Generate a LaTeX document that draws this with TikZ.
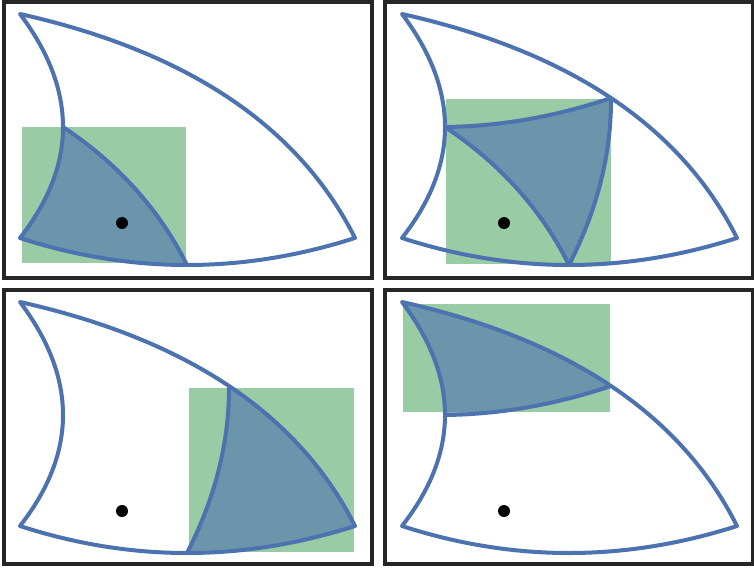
\documentclass[tikz,border=0pt]{standalone}
\usetikzlibrary{calc}

\definecolor{finblue}{HTML}{4C72B0}
\definecolor{boxgreen}{HTML}{55A868}
\definecolor{framegray}{HTML}{262626}

\tikzset{
  panel/.style={draw=framegray, line width=3.5pt},
  greenbox/.style={fill=boxgreen, fill opacity=0.6},
  finline/.style={draw=finblue, line width=4pt, line join=round},
  patch/.style={fill=finblue, fill opacity=0.6},
  centre/.style={circle, fill=black, inner sep=0pt, minimum size=12pt},
}

% quadratic piece from #1 to #3, control point #2
\newcommand{\qto}[3]{.. controls ($(#1)!2/3!(#2)$) and ($(#3)!2/3!(#2)$) .. (#3)}

% corners, edge midpoints and control points of the fin
\newcommand{\finpoints}{%
  \coordinate (A) at (20,14);
  \coordinate (B) at (20,238);
  \coordinate (C) at (355,238);
  \coordinate (mAB) at (63,127);
  \coordinate (mBC) at (187,265);
  \coordinate (mAC) at (229,98);
  \coordinate (qA1) at (63,71);
  \coordinate (qB1) at (63,183);
  \coordinate (qB2) at (103.25,265);
  \coordinate (qC1) at (270.75,265);
  \coordinate (qC2) at (312.75,154);
  \coordinate (qA2) at (145.25,42);
  \coordinate (qi1) at (145.75,182);
  \coordinate (qi2) at (145.75,126);
  \coordinate (qi3) at (229.5,182);
}
\newcommand{\finoutline}{%
  \draw[finline] (A) \qto{A}{qA1}{mAB} \qto{mAB}{qB1}{B} \qto{B}{qB2}{mBC}
    \qto{mBC}{qC1}{C} \qto{C}{qC2}{mAC} \qto{mAC}{qA2}{A} -- cycle;
}

\begin{document}
\begin{tikzpicture}[x=1pt, y=-1pt]
  \useasboundingbox (0,0) rectangle (754,567);

  % frames
  \draw[panel] (4,2) rectangle (372,278);
  \draw[panel] (385,2) rectangle (752.5,278);
  \draw[panel] (4,290) rectangle (372,564);
  \draw[panel] (385,290) rectangle (752.5,564);

  % corner B
  \begin{scope}
    \finpoints
    \fill[greenbox] (22,127) rectangle (186,263);
    \path[patch] (B) \qto{B}{qB2}{mBC} \qto{mBC}{qi1}{mAB} \qto{mAB}{qB1}{B} -- cycle;
    \draw[finline] (mAB) \qto{mAB}{qi1}{mBC};
    \finoutline
    \node[centre] (c1) at (122,223) {};
  \end{scope}

  % middle
  \begin{scope}[shift={(382,0)}]
    \finpoints
    \fill[greenbox] (64,99) rectangle (229,264);
    \path[patch] (mAB) \qto{mAB}{qi2}{mAC} \qto{mAC}{qi3}{mBC} \qto{mBC}{qi1}{mAB} -- cycle;
    \draw[finline] (mAB) \qto{mAB}{qi2}{mAC} \qto{mAC}{qi3}{mBC} \qto{mBC}{qi1}{mAB} -- cycle;
    \finoutline
    \node[centre] (c2) at (122,223) {};
  \end{scope}

  % corner C
  \begin{scope}[shift={(0,288)}]
    \finpoints
    \fill[greenbox] (189,99.5) rectangle (354,263.5);
    \path[patch] (mBC) \qto{mBC}{qC1}{C} \qto{C}{qC2}{mAC} \qto{mAC}{qi3}{mBC} -- cycle;
    \draw[finline] (mAC) \qto{mAC}{qi3}{mBC};
    \finoutline
    \node[centre] (c3) at (122,223) {};
  \end{scope}

  % corner A
  \begin{scope}[shift={(382,288)}]
    \finpoints
    \fill[greenbox] (21,15.5) rectangle (228,124);
    \path[patch] (A) \qto{A}{qA1}{mAB} \qto{mAB}{qi2}{mAC} \qto{mAC}{qA2}{A} -- cycle;
    \draw[finline] (mAB) \qto{mAB}{qi2}{mAC};
    \finoutline
    \node[centre] (c4) at (122,223) {};
  \end{scope}
\end{tikzpicture}
\end{document}
